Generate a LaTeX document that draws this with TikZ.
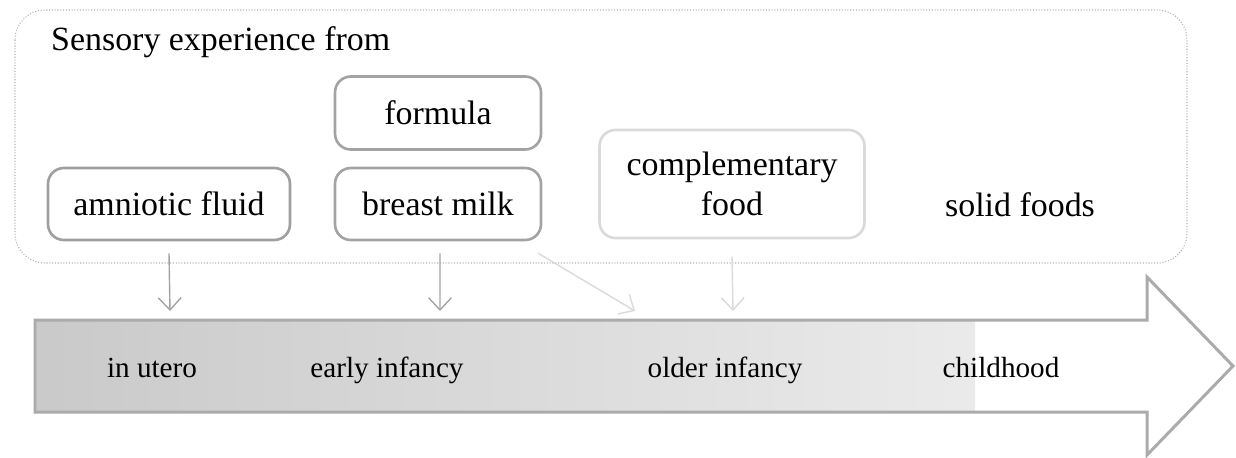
\documentclass[tikz,border=0pt]{standalone}
\usepackage{fontspec}
\setmainfont{Liberation Serif}
\usetikzlibrary{arrows.meta}

\definecolor{boxgray}{HTML}{A3A3A3}
\definecolor{palegray}{HTML}{DADADA}
\definecolor{arrowgray}{HTML}{ABABAB}

\tikzset{
    foodbox/.style={draw=boxgray, line width=1.5pt, rounded corners=9pt, align=center,
        font=\fontsize{19.3}{22.7}\selectfont},
    stage/.style={font=\fontsize{16.6}{20}\selectfont, text height=1.5ex, text depth=0.25ex},
    feed/.style={draw=boxgray, line width=0.8pt, -{Straight Barb[length=7pt,width=13pt]}},
}

\begin{document}
\begin{tikzpicture}[x=0.02cm, y=-0.02cm]
        \useasboundingbox (0,0) rectangle (1236,457);
        % outer dotted frame
        \draw[gray!60, densely dotted, line width=0.6pt, rounded corners=17pt] (15,10) rectangle (1187,263);
        \node[anchor=west, font=\fontsize{19.3}{22.7}\selectfont] (head) at (45,42) {Sensory experience from};

        \node[foodbox, draw=gray!75, minimum width=4.84cm, minimum height=1.44cm] (amn) at (169,204) {amniotic fluid};
        \node[foodbox, minimum width=4.12cm, minimum height=1.46cm] (form) at (438,113) {formula};
        \node[foodbox, minimum width=4.12cm, minimum height=1.44cm] (milk) at (438,204) {breast milk};
        \node[foodbox, draw=palegray, minimum width=5.3cm, minimum height=2.16cm] (comp) at (732,184) {complementary\\food};
        \node[font=\fontsize{19.3}{22.7}\selectfont] (solid) at (1020,205) {solid foods};

        % timeline arrow
        \shade[left color=black!21, right color=black!8] (35,320) rectangle (975,412);
        \draw[arrowgray, line width=1.7pt] (35,320) -- (1147,320) -- (1147,277) -- (1233,366)
            -- (1147,455) -- (1147,412) -- (35,412) -- cycle;
        \node[stage] (utero) at (152,372) {in utero};
        \node[stage] (early) at (387,372) {early infancy};
        \node[stage] (older) at (725,372) {older infancy};
        \node[stage] (child) at (1001,372) {childhood};

        \coordinate (t1) at (170,311);
        \coordinate (t2) at (440,311);
        \coordinate (t3) at (635,311);
        \coordinate (t4) at (733,311);
        \draw[feed] ([yshift=-0.24cm]amn.south) -- (t1);
        \draw[feed] ([xshift=0.04cm, yshift=-0.24cm]milk.south) -- (t2);
        \draw[feed, draw=palegray] ([xshift=-0.08cm, yshift=-0.24cm]milk.south east) -- (t3);
        \draw[feed, draw=palegray] ([yshift=-0.34cm]comp.south) -- (t4);
    \end{tikzpicture}
\end{document}
